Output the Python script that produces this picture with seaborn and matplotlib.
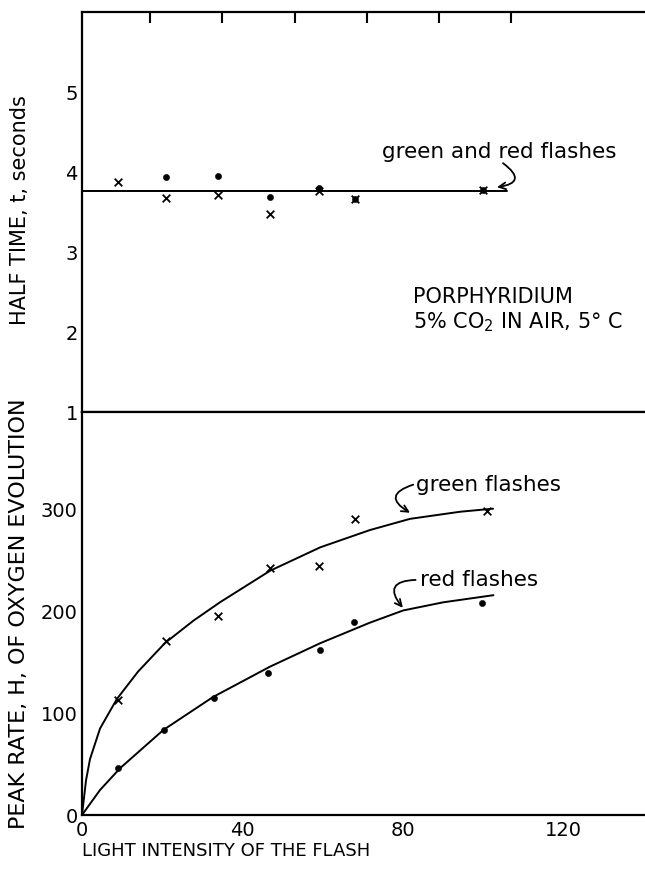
import matplotlib
matplotlib.use("Agg")
import matplotlib.pyplot as plt
import seaborn as sns
import pandas as pd

# ---------------- data ----------------
# upper panel: half time t (seconds)
top_x_cross = [9, 21, 34, 47, 59, 68, 100]
top_y_cross = [3.88, 3.68, 3.71, 3.47, 3.76, 3.66, 3.78]
top_x_dot = [21, 34, 47, 59, 68, 100]
top_y_dot = [3.94, 3.95, 3.69, 3.80, 3.66, 3.77]
top_fit_x = [0, 106]
top_fit_y = [3.76, 3.76]

# lower panel: peak rate H of oxygen evolution
green_x = [9, 21, 34, 47, 59, 68, 101]
green_y = [113, 171, 196, 243, 245, 291, 299]
red_x = [9, 20.5, 33, 46.5, 59.3, 67.8, 99.7]
red_y = [46, 84, 115, 140, 162, 190, 208.5]

green_curve_x = [0, 1, 2, 4.5, 8.7, 14, 20.7, 27.8, 34.4, 46.9, 59.4, 71.8, 81.8, 94.3, 102.5]
green_curve_y = [0, 34, 55, 85, 114, 141, 169, 191, 209, 240, 263, 280, 291, 298, 301]
red_curve_x = [0, 4.5, 9.5, 20.3, 32.7, 46.9, 59.4, 71.8, 80.1, 90.1, 102.6]
red_curve_y = [0, 24.6, 46, 83.6, 116, 145.8, 168.8, 189, 201, 209, 216]

x_major = [0, 40, 80, 120]
x_minor = [20, 60, 100]
top_edge_ticks = [17, 35, 53, 71, 89, 107]
top_yticks = [1, 2, 3, 4, 5]
bot_yticks = [0, 100, 200, 300]

# ---------------- style ----------------
sns.set_theme(style="white")
plt.rcParams["font.family"] = ["DejaVu Sans"]
plt.rcParams["text.color"] = "black"
plt.rcParams["axes.labelcolor"] = "black"
plt.rcParams["xtick.color"] = "black"
plt.rcParams["ytick.color"] = "black"
plt.rcParams["axes.linewidth"] = 1.5

fig = plt.figure(figsize=(6.45, 8.71), dpi=100)
fig.patch.set_facecolor("white")
ax_top = fig.add_axes([82 / 645, 459 / 871, 563 / 645, 400 / 871])
ax_bot = fig.add_axes([82 / 645, 56 / 871, 563 / 645, 403 / 871])

for ax in (ax_top, ax_bot):
    ax.set_facecolor("white")
    ax.spines["right"].set_visible(False)
    for s in ("left", "bottom", "top"):
        ax.spines[s].set_color("black")
        ax.spines[s].set_linewidth(1.6)
    ax.set_xlim(0, 140.4)

arrow_kw = dict(arrowstyle="->", color="black", lw=1.3, shrinkA=0, shrinkB=0)

# ---------------- upper panel ----------------
df_tc = pd.DataFrame({"x": top_x_cross, "y": top_y_cross})
df_td = pd.DataFrame({"x": top_x_dot, "y": top_y_dot})
df_tf = pd.DataFrame({"x": top_fit_x, "y": top_fit_y})
sns.lineplot(data=df_tf, x="x", y="y", ax=ax_top, color="black", lw=1.4)
sns.scatterplot(data=df_tc, x="x", y="y", ax=ax_top, marker="x", s=30,
                color="black", linewidth=1.3)
sns.scatterplot(data=df_td, x="x", y="y", ax=ax_top, marker="o", s=20,
                color="black", edgecolor="black")
ax_top.set_ylim(1, 6)
ax_top.set_yticks(top_yticks)
ax_top.set_yticklabels([str(v) for v in top_yticks], fontsize=14)
ax_top.set_xticks(top_edge_ticks)
ax_top.tick_params(axis="x", which="both", bottom=False, top=True,
                   labelbottom=False, labeltop=False, direction="in",
                   length=8, width=1.5, color="black")
ax_top.tick_params(axis="y", direction="in", length=12, width=1.5,
                   color="black", pad=3)
ax_top.set_xlabel("")
ax_top.set_ylabel("HALF TIME, t, seconds", fontsize=15)
ax_top.yaxis.set_label_coords(-0.092, 0.505)

ax_top.text(74.8, 4.25, "green and red flashes", fontsize=15.5,
            va="center", ha="left")
ax_top.annotate("", xy=(103.5, 3.81), xytext=(105, 4.11),
                arrowprops=dict(connectionstyle="arc3,rad=-1.2", **arrow_kw))
ax_top.text(82.5, 2.44, "PORPHYRIDIUM", fontsize=15, va="center", ha="left")
ax_top.text(82.5, 2.12, "5% CO$_2$ IN AIR, 5° C", fontsize=15,
            va="center", ha="left")

# ---------------- lower panel ----------------
df_g = pd.DataFrame({"x": green_x, "y": green_y})
df_r = pd.DataFrame({"x": red_x, "y": red_y})
df_gc = pd.DataFrame({"x": green_curve_x, "y": green_curve_y})
df_rc = pd.DataFrame({"x": red_curve_x, "y": red_curve_y})
sns.lineplot(data=df_gc, x="x", y="y", ax=ax_bot, color="black", lw=1.4,
             sort=False)
sns.lineplot(data=df_rc, x="x", y="y", ax=ax_bot, color="black", lw=1.4,
             sort=False)
sns.scatterplot(data=df_g, x="x", y="y", ax=ax_bot, marker="x", s=30,
                color="black", linewidth=1.3)
sns.scatterplot(data=df_r, x="x", y="y", ax=ax_bot, marker="o", s=20,
                color="black", edgecolor="black")
ax_bot.set_ylim(0, 396)
ax_bot.set_yticks(bot_yticks)
ax_bot.set_yticklabels([str(v) for v in bot_yticks], fontsize=14)
ax_bot.set_xticks(x_major)
ax_bot.set_xticklabels([str(v) for v in x_major], fontsize=14)
ax_bot.set_xticks(x_minor, minor=True)
ax_bot.tick_params(axis="x", which="both", direction="in", length=9,
                   width=1.5, color="black", top=False, pad=4)
ax_bot.tick_params(axis="y", direction="in", length=12, width=1.5,
                   color="black", pad=3)
ax_bot.set_xlabel("LIGHT INTENSITY OF THE FLASH", fontsize=13)
ax_bot.xaxis.set_label_coords(0.0, -0.089)
ax_bot.xaxis.label.set_horizontalalignment("left")
ax_bot.xaxis.label.set_verticalalignment("center")
ax_bot.set_ylabel("PEAK RATE, H, OF OXYGEN EVOLUTION", fontsize=16)
ax_bot.yaxis.set_label_coords(-0.094, 0.5)

ax_bot.text(83.4, 324.6, "green flashes", fontsize=15.5, va="center", ha="left")
ax_bot.annotate("", xy=(81.8, 297), xytext=(82.6, 324.6),
                arrowprops=dict(connectionstyle="arc3,rad=1.1", **arrow_kw))
ax_bot.text(84.2, 231, "red flashes", fontsize=15.5, va="center", ha="left")
ax_bot.annotate("", xy=(80, 203.6), xytext=(83.2, 231),
                arrowprops=dict(connectionstyle="arc3,rad=1.0", **arrow_kw))

fig.savefig("out.png", dpi=100, facecolor="white")
